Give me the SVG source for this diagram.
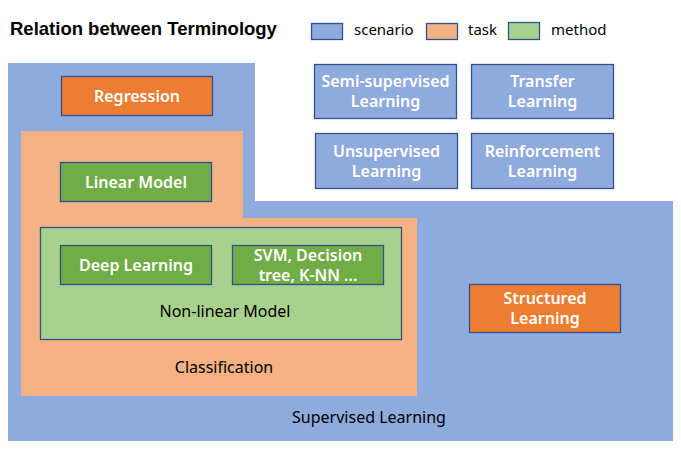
<svg xmlns="http://www.w3.org/2000/svg" width="681" height="453" viewBox="0 0 681 453">
<style>
.t{font-family:"Noto Sans","Open Sans","Liberation Sans",sans-serif;font-size:16px;text-anchor:middle}
.l{font-family:"Noto Sans","Open Sans","Liberation Sans",sans-serif;font-size:15px;fill:#000}
.w{fill:#fff;font-weight:600}
.k{fill:#000}
.box{stroke:#2F528F;stroke-width:1.3}
.sc{fill:#8FAADC}
.tk{fill:#F4B183}
.me{fill:#A9D18E}
.dt{fill:#ED7D31}
.dm{fill:#70AD47}
</style>
<rect width="681" height="453" fill="#fff"/>
<text x="10" y="35" font-family="Liberation Sans,Arial,sans-serif" font-weight="bold" font-size="18.5" fill="#000">Relation between Terminology</text>
<g id="legend">
<rect class="box sc" x="311.5" y="23.5" width="31" height="16"/>
<text class="l" x="354" y="35">scenario</text>
<rect class="box tk" x="426.5" y="23.5" width="31" height="16"/>
<text class="l" x="468" y="35">task</text>
<rect class="box me" x="508.5" y="22.5" width="31" height="17"/>
<text class="l" x="551" y="35">method</text>
</g>
<g id="supervised">
<polygon class="sc" points="8,63 255,63 255,201 673,201 673,441 8,441"/>
<text class="t k" x="369" y="423">Supervised Learning</text>
</g>
<g id="classification">
<polygon class="tk" points="21,131 243,131 243,218 417,218 417,396 21,396"/>
<text class="t k" x="224" y="373">Classification</text>
</g>
<g id="regression">
<rect class="box dt" x="61.5" y="76.5" width="151" height="39"/>
<text class="t w" x="137" y="102">Regression</text>
</g>
<g id="linear">
<rect class="box dm" x="60.5" y="162.5" width="151" height="39"/>
<text class="t w" x="136" y="188">Linear Model</text>
</g>
<g id="nonlinear">
<rect class="box me" x="40.5" y="227.5" width="361" height="112"/>
<text class="t k" x="225" y="317">Non-linear Model</text>
</g>
<g id="deep">
<rect class="box dm" x="60.5" y="245.5" width="151" height="39"/>
<text class="t w" x="136" y="271">Deep Learning</text>
</g>
<g id="svm">
<rect class="box dm" x="232.5" y="245.5" width="151" height="39"/>
<text class="t w" x="308" y="261">SVM, Decision</text>
<text class="t w" x="308" y="281">tree, K-NN ...</text>
</g>
<g id="semi">
<rect class="box sc" x="314.5" y="64.5" width="142" height="54"/>
<text class="t w" x="385.5" y="87">Semi-supervised</text>
<text class="t w" x="385.5" y="107">Learning</text>
</g>
<g id="transfer">
<rect class="box sc" x="471.5" y="64.5" width="142" height="54"/>
<text class="t w" x="542.5" y="87">Transfer</text>
<text class="t w" x="542.5" y="107">Learning</text>
</g>
<g id="unsupervised">
<rect class="box sc" x="315.5" y="133.5" width="142" height="55"/>
<text class="t w" x="386.5" y="157">Unsupervised</text>
<text class="t w" x="386.5" y="177">Learning</text>
</g>
<g id="reinforcement">
<rect class="box sc" x="471.5" y="133.5" width="142" height="55"/>
<text class="t w" x="542.5" y="157">Reinforcement</text>
<text class="t w" x="542.5" y="177">Learning</text>
</g>
<g id="structured">
<rect class="box dt" x="469.5" y="284.5" width="151" height="48"/>
<text class="t w" x="545" y="304">Structured</text>
<text class="t w" x="545" y="324">Learning</text>
</g>
<g id="connectors"></g>
</svg>
